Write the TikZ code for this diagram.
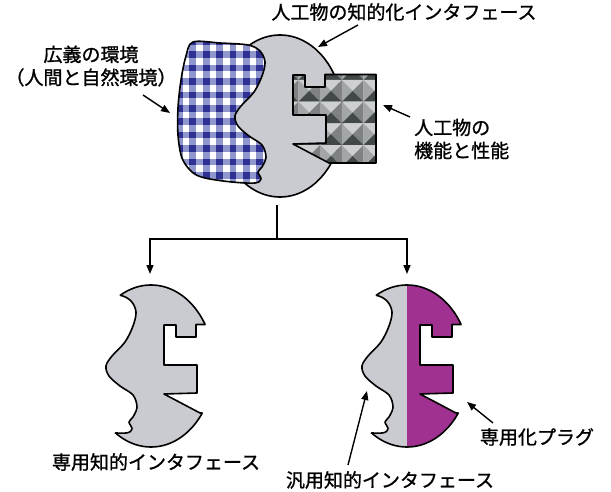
\documentclass[tikz,border=0pt]{standalone}
\usepackage{fontspec}
\newfontfamily\jp{Noto Sans CJK JP}[FakeBold=1.1]
\usetikzlibrary{arrows.meta}

\definecolor{ifill}{HTML}{C9CBD1}
\definecolor{gdark}{HTML}{2E3192}
\definecolor{glight}{HTML}{9097CF}
\definecolor{studtop}{HTML}{CDCFD1}
\definecolor{studleft}{HTML}{A3A6A8}
\definecolor{studright}{HTML}{7E8284}
\definecolor{studbot}{HTML}{424748}
\definecolor{plug}{HTML}{A03190}

\tikzset{
  outline/.style={draw=black, line width=1.6pt, line join=round},
  ptr/.style={-{Triangle[length=9pt,width=7pt]}, line width=1.4pt},
  treeline/.style={line width=1.4pt},
  lbl/.style={font=\jp\fontsize{19}{23}\selectfont, inner sep=0pt},
  % outline of the whole artefact interface
  ellpath/.style={insert path={(280,116) ellipse [x radius=63, y radius=81]}},
  % environment region (left)
  cpath/.style={insert path={plot[smooth cycle, tension=0.55] coordinates {
    (193,42) (220,43) (248,45) (260,51) (265,62) (262,76) (254,92) (241,106)
    (235,116) (238,126) (249,136) (262,145) (266,157) (262,167) (258,172)
    (261,179) (255,183) (232,182) (205,178) (192,172) (182,158) (178,135)
    (178,108) (181,80) (186,56)}}},
  % artefact block (right)
  bpath/.style={insert path={(293,75) -- (305,75) -- (305,87) -- (325,87)
    -- (325,74.5) -- (376,74.5) -- (376,163) -- (329,163) -- (293,144)
    -- (326,143) -- (326,115) -- (293,115) -- cycle}},
}

\begin{document}
\begin{tikzpicture}[x=1pt, y=-1pt]
\useasboundingbox (0,0) rectangle (611,492);

% ---------- top: environment, interface and artefact ----------
\fill[ifill, ellpath];
\draw[outline, ellpath];

\begin{scope}
  \clip[cpath];
  \fill[white] (170,35) rectangle (270,190);
  \foreach \i in {0,...,7} \fill[glight] (176+13.4*\i,35) rectangle ++(6.7,155);
  \foreach \j in {0,...,11} \fill[glight] (170,38+13.4*\j) rectangle ++(100,6.7);
  \foreach \i in {0,...,7}
    \foreach \j in {0,...,11}
      \fill[gdark] (176+13.4*\i,38+13.4*\j) rectangle ++(6.7,6.7);
\end{scope}
\draw[outline, cpath];

\begin{scope}
  \clip[bpath];
  \foreach \i in {0,...,4}
    \foreach \j in {0,...,5} {
      \begin{scope}[shift={(276.7+21.7*\i,58.3+21.7*\j)}]
        \fill[studtop]   (0,0) -- (21.7,0) -- (10.85,10.85) -- cycle;
        \fill[studleft]  (0,0) -- (0,21.7) -- (10.85,10.85) -- cycle;
        \fill[studright] (21.7,0) -- (21.7,21.7) -- (10.85,10.85) -- cycle;
        \fill[studbot]   (0,21.7) -- (21.7,21.7) -- (10.85,10.85) -- cycle;
      \end{scope}
    }
\end{scope}
\draw[outline, bpath];

% ---------- bottom left: dedicated interface ----------
\begin{scope}[shift={(-129,250)}]
  \fill[ifill, ellpath];
  \draw[outline, ellpath];
  \fill[white, cpath];
  \fill[white, bpath];
  \begin{scope}
    \clip[ellpath];
    \draw[outline, cpath];
    \draw[outline, bpath];
  \end{scope}
\end{scope}

% ---------- bottom right: general interface with plug ----------
\begin{scope}[shift={(127,250)}]
  \fill[ifill, ellpath];
  \begin{scope}
    \clip (280,20) rectangle (400,220);
    \fill[plug, ellpath];
  \end{scope}
  \draw[outline, ellpath];
  \fill[white, cpath];
  \fill[white, bpath];
  \begin{scope}
    \clip[ellpath];
    \draw[outline, cpath];
    \draw[outline, bpath];
  \end{scope}
\end{scope}

% ---------- labels ----------
\node[lbl] (lblTop) at (404,12) {人工物の知的化インタフェース};
\node[lbl, align=center] (lblEnv) at (91,66) {広義の環境\\（人間と自然環境）};
\node[lbl, align=left, anchor=west] (lblArt) at (414,139) {人工物の\\機能と性能};
\node[lbl] (lblDed) at (156,462) {専用知的インタフェース};
\node[lbl] (lblGen) at (390,480) {汎用知的インタフェース};
\node[lbl] (lblPlug) at (537,437) {専用化プラグ};

% ---------- pointers ----------
\coordinate (topTail) at (358,25);  \coordinate (topTip) at (318,47);
\coordinate (envTail) at (143,95);  \coordinate (envTip) at (170,113);
\coordinate (artTail) at (410,117); \coordinate (artTip) at (383,105);
\coordinate (genTail) at (348,465); \coordinate (genTip) at (367,391);
\coordinate (plugTail) at (493,423); \coordinate (plugTip) at (467,402);
\draw[ptr] (topTail) -- (topTip);
\draw[ptr] (envTail) -- (envTip);
\draw[ptr] (artTail) -- (artTip);
\draw[ptr] (genTail) -- (genTip);
\draw[ptr] (plugTail) -- (plugTip);

% ---------- tree ----------
\coordinate (stem) at (277,205);
\coordinate (split) at (277,239);
\coordinate (leftIn) at (150,274);
\coordinate (rightIn) at (407,274);
\draw[treeline] (stem) -- (split);
\draw[ptr] (split) -| (leftIn);
\draw[ptr] (split) -| (rightIn);
\end{tikzpicture}
\end{document}
